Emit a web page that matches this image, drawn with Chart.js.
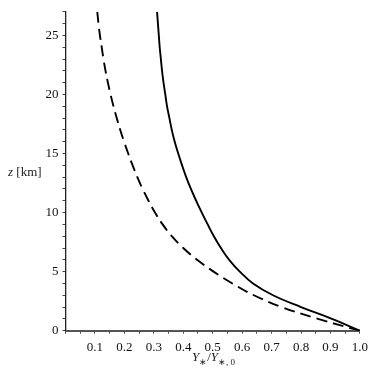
<!DOCTYPE html>
<html>
<head>
<meta charset="utf-8">
<script src="https://cdn.jsdelivr.net/npm/chart.js@4/dist/chart.umd.min.js"></script>
<style>
  body { margin: 0; background: #fff; }
  #wrap { position: relative; width: 374px; height: 374px; }
  .ttl { position: absolute; font-family: 'Liberation Serif', 'Times New Roman', serif; font-size: 13px; color: #222; white-space: nowrap; }
  .ttl sub { font-size: 9px; }
</style>
</head>
<body>
<div id="wrap">
  <canvas id="plot" width="374" height="374"></canvas>
  <div class="ttl" style="left:8px; top:164px;"><i>z</i> [km]</div>
  <div class="ttl" style="left:192px; top:349px;"><i>Y</i><sub>&lowast;</sub>/<i>Y</i><sub>&lowast;, 0</sub></div>
</div>
<script>
// altitude in km (vertical axis), one point per km
const zKm = [0, 1, 2, 3, 4, 5, 6, 7, 8, 9, 10, 11, 12, 13,
             14, 15, 16, 17, 18, 19, 20, 21, 22, 23, 24, 25, 26, 27];
// normalised yield, solid curve
const solidY = [1.000, 0.905, 0.800, 0.705, 0.637, 0.592, 0.556, 0.528, 0.504, 0.483, 0.463, 0.444, 0.426, 0.410,
                0.396, 0.383, 0.371, 0.361, 0.353, 0.345, 0.339, 0.333, 0.328, 0.324, 0.320, 0.317, 0.314, 0.311];
// normalised yield, dashed curve
const dashedY = [1.000, 0.858, 0.735, 0.640, 0.567, 0.503, 0.447, 0.400, 0.361, 0.330, 0.304, 0.282, 0.262, 0.244,
                 0.228, 0.213, 0.199, 0.186, 0.174, 0.163, 0.153, 0.144, 0.136, 0.129, 0.123, 0.117, 0.112, 0.108];
const xTickLabels = ['0.1', '0.2', '0.3', '0.4', '0.5', '0.6', '0.7', '0.8', '0.9', '1.0'];
const yTickLabels = ['0', '5', '10', '15', '20', '25'];

function toPoints(xs) {
    return zKm.map((z, i) => ({ x: xs[i], y: z }));
}

const tickFont = { family: "'Liberation Serif', 'Times New Roman', serif", size: 13 };

const ctx = document.getElementById('plot').getContext('2d');

const chart = new Chart(ctx, {
    type: 'line',
    data: {
        datasets: [{
            label: 'solid',
            data: toPoints(solidY),
            borderColor: '#000',
            borderWidth: 1.9,
            pointRadius: 0,
            tension: 0.4
        }, {
            label: 'dashed',
            data: toPoints(dashedY),
            borderColor: '#000',
            borderWidth: 1.9,
            borderDash: [11, 6],
            pointRadius: 0,
            tension: 0.4
        }]
    },
    options: {
        responsive: false,
        devicePixelRatio: 1,
        animation: false,
        layout: { padding: { left: 0, right: 13.5, top: 7, bottom: 0 } },
        plugins: { legend: { display: false }, tooltip: { enabled: false } },
        scales: {
            x: {
                type: 'linear',
                position: 'bottom',
                min: 0,
                max: 1,
                afterFit: (s) => { s.height = 43.3; },
                border: { display: true, color: '#555', width: 2 },
                grid: { drawOnChartArea: false, drawTicks: true, tickLength: 3, color: '#444' },
                ticks: {
                    stepSize: 0.05,
                    autoSkip: false,
                    maxRotation: 0,
                    padding: 6,
                    color: '#111',
                    font: tickFont,
                    callback: (v) => {
                        const k = Math.round(v * 20);
                        return (k > 0 && k % 2 === 0) ? xTickLabels[k / 2 - 1] : '';
                    }
                }
            },
            y: {
                type: 'linear',
                min: 0,
                max: 27,
                afterFit: (s) => { s.width = 65.5; },
                border: { display: true, color: '#222', width: 1.3 },
                grid: { drawOnChartArea: false, drawTicks: true, tickLength: 3, color: '#444' },
                ticks: {
                    stepSize: 1,
                    autoSkip: false,
                    padding: 4,
                    color: '#111',
                    font: tickFont,
                    callback: (v) => (v % 5 === 0 ? yTickLabels[v / 5] : '')
                }
            }
        }
    }
});
</script>
</body>
</html>
